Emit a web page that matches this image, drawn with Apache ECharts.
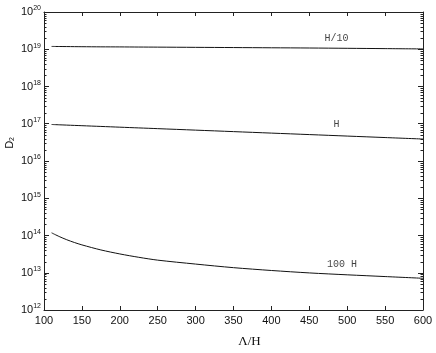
<!DOCTYPE html>
<html>
<head>
<meta charset="utf-8">
<script src="https://cdn.jsdelivr.net/npm/echarts@6/dist/echarts.min.js"></script>
<style>
  html, body { margin: 0; padding: 0; background: #fff; }
  #chart { width: 436px; height: 353px; }
</style>
</head>
<body>
<div id="chart"></div>
<script>
// Λ/H values along the curves
const lambdaH = [110, 120, 130, 140, 150, 175, 200, 225, 250, 300, 350, 400, 450, 500, 550, 600];
// D_2 for the three cases
const dH10 = [1.19e19, 1.185e19, 1.18e19, 1.175e19, 1.17e19, 1.16e19, 1.155e19, 1.147e19, 1.14e19, 1.125e19, 1.11e19, 1.095e19, 1.08e19, 1.06e19, 1.04e19, 1.02e19];
const dH = [9.55e16, 9.37e16, 9.2e16, 9.03e16, 8.87e16, 8.47e16, 8.09e16, 7.73e16, 7.39e16, 6.74e16, 6.15e16, 5.61e16, 5.12e16, 4.67e16, 4.26e16, 3.89e16];
const d100H = [1.18e14, 9.4e13, 7.7e13, 6.5e13, 5.6e13, 4.1e13, 3.2e13, 2.6e13, 2.18e13, 1.71e13, 1.37e13, 1.15e13, 9.9e12, 8.8e12, 7.9e12, 7.1e12];
// curve annotations (data coordinates)
const curveNames = ['H/10', 'H', '100 H'];
const curveNameX = [486, 486, 493];
const curveNameY = [2.0e19, 9.7e16, 1.69e13];

const yMin = 1e12, yMax = 1e20;
const frame = '#222';

const chart = echarts.init(document.getElementById('chart'));

function pairs(xs, ys) {
  return xs.map((x, i) => [x, ys[i]]);
}

const option = {
  animation: false,
  grid: { left: 44, right: 13, top: 12, bottom: 41 },
  xAxis: [{
    type: 'value', min: 100, max: 600, interval: 50,
    axisLine: { lineStyle: { color: frame, width: 1 } },
    axisTick: { inside: true, length: 4, lineStyle: { color: frame } },
    axisLabel: { margin: 5, color: '#111', fontSize: 11, fontFamily: 'Liberation Sans' },
    splitLine: { show: false },
    name: 'Λ/H', nameLocation: 'middle', nameGap: 25,
    nameTextStyle: { fontFamily: 'Liberation Serif', fontSize: 13, color: '#111', padding: [0, 0, 0, 32] }
  }, {
    type: 'value', min: 100, max: 600, interval: 50, position: 'top',
    axisLine: { lineStyle: { color: frame, width: 1 } },
    axisTick: { inside: true, length: 4, lineStyle: { color: frame } },
    axisLabel: { show: false },
    splitLine: { show: false }
  }],
  yAxis: [{
    type: 'log', logBase: 10, min: yMin, max: yMax,
    axisLine: { lineStyle: { color: frame, width: 1 } },
    axisTick: { inside: true, length: 5, lineStyle: { color: frame } },
    splitLine: { show: false },
    axisLabel: {
      margin: 3, color: '#111',
      formatter: v => '{b|10}{s|' + Math.round(Math.log10(v)) + '}',
      rich: {
        b: { fontSize: 11, fontFamily: 'Liberation Sans', color: '#111' },
        s: { fontSize: 7, fontFamily: 'Liberation Sans', color: '#111', padding: [0, 0, 7, 0] }
      }
    }
  }, {
    type: 'log', logBase: 10, min: yMin, max: yMax, position: 'right',
    axisLine: { lineStyle: { color: frame, width: 1 } },
    axisTick: { inside: true, length: 5, lineStyle: { color: frame } },
    axisLabel: { show: false },
    splitLine: { show: false }
  }],
  series: [
    { name: 'H/10', type: 'line', data: pairs(lambdaH, dH10), smooth: 0.3, showSymbol: false,
      lineStyle: { color: '#111', width: 1 } },
    { name: 'H', type: 'line', data: pairs(lambdaH, dH), smooth: 0.3, showSymbol: false,
      lineStyle: { color: '#111', width: 1 } },
    { name: '100 H', type: 'line', data: pairs(lambdaH, d100H), smooth: 0.3, showSymbol: false,
      lineStyle: { color: '#111', width: 1 } },
    { type: 'scatter', symbolSize: 0, silent: true,
      data: curveNames.map((n, i) => ({ name: n, value: [curveNameX[i], curveNameY[i]] })),
      label: { show: true, position: 'inside', formatter: p => p.name,
        fontFamily: 'Liberation Mono', fontSize: 10, color: '#111' } }
  ]
};
chart.setOption(option);

// log minor ticks (2..9 x 10^k) on both vertical sides
const minor = [];
const xl = chart.convertToPixel({ xAxisIndex: 0 }, 100);
const xr = chart.convertToPixel({ xAxisIndex: 0 }, 600);
for (let k = 12; k < 20; k++) {
  for (let m = 2; m <= 9; m++) {
    const y = Math.round(chart.convertToPixel({ yAxisIndex: 0 }, m * Math.pow(10, k))) + 0.5;
    minor.push({ type: 'line', silent: true, shape: { x1: xl, y1: y, x2: xl + 2.5, y2: y }, style: { stroke: frame, lineWidth: 1 } });
    minor.push({ type: 'line', silent: true, shape: { x1: xr - 2.5, y1: y, x2: xr, y2: y }, style: { stroke: frame, lineWidth: 1 } });
  }
}
minor.push({
  type: 'text', left: 4, top: 137, rotation: Math.PI / 2, silent: true,
  style: {
    text: '{d|D}{u|2}',
    rich: {
      d: { fontSize: 11, fontFamily: 'Liberation Sans', fill: '#111' },
      u: { fontSize: 7, fontFamily: 'Liberation Sans', fill: '#111', padding: [5, 0, 0, 0] }
    }
  }
});
chart.setOption({ graphic: minor });
</script>
</body>
</html>
